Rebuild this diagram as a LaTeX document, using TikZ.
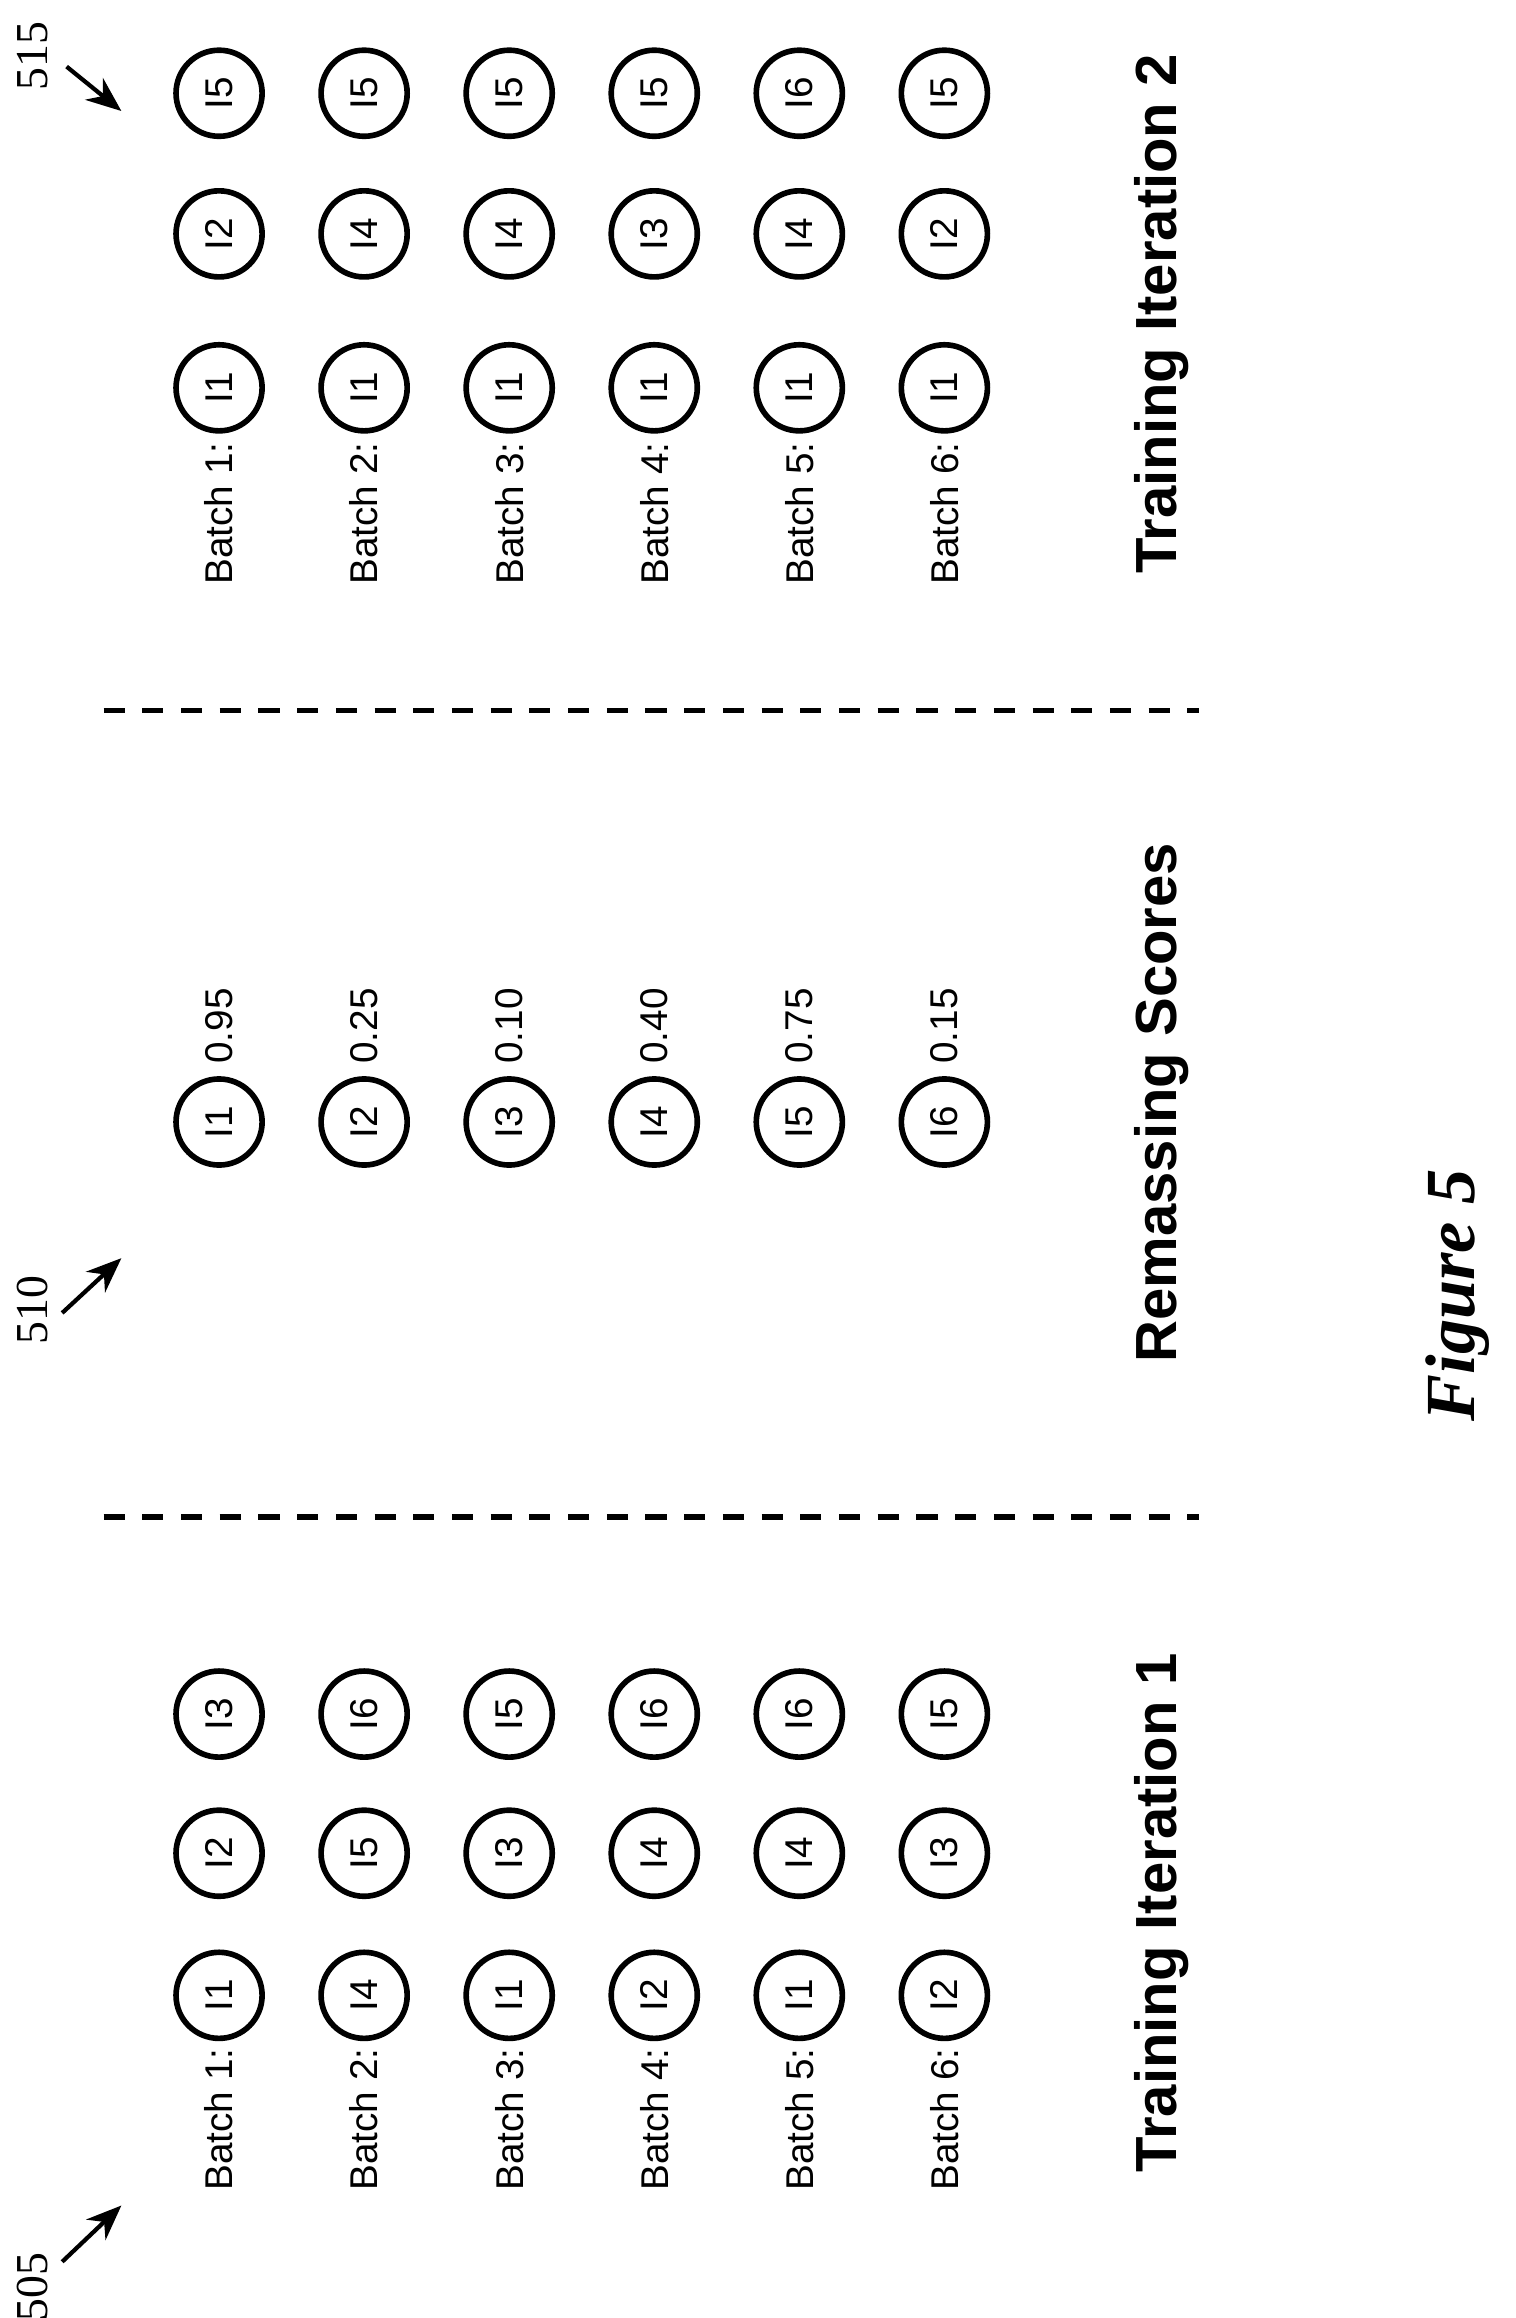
\documentclass[tikz,border=0pt]{standalone}
\usepackage{fontspec}
\setmainfont{Liberation Sans}
\newfontfamily\figfont{Liberation Serif}
\usetikzlibrary{arrows.meta}
\begin{document}
\begin{tikzpicture}[x=0.01478cm,y=-0.01478cm,
    item/.style={draw,circle,line width=1.6pt,minimum size=0.86cm,inner sep=0,rotate=90,font=\fontsize{11}{13}\selectfont},
    lbl/.style={rotate=90,font=\fontsize{11}{13}\selectfont},
    ttl/.style={rotate=90,font=\fontsize{16.5}{19}\selectfont\bfseries},
    refnum/.style={rotate=90,font=\figfont\fontsize{13}{15}\selectfont},
    refarrow/.style={-{Stealth[length=10pt,width=8pt]},line width=1.2pt}]
    % Page frame
    \useasboundingbox (0,0) rectangle (1024,1566);

    % Training iteration 1
    \foreach [count=\i] \a/\b/\c in {I1/I2/I3, I4/I5/I6, I1/I3/I5, I2/I4/I6, I1/I4/I6, I2/I3/I5} {
        \node[lbl] (la\i) at (50+98*\i,1432) {Batch \i:};
        \node[item] (la\i a) at (50+98*\i,1348) {\a};
        \node[item] (la\i b) at (50+98*\i,1252) {\b};
        \node[item] (la\i c) at (50+98*\i,1158) {\c};
    }
    \node[ttl] (lefttitle) at (785,1292) {Training Iteration 1};

    % Remassing scores
    \foreach [count=\i] \s in {0.95,0.25,0.10,0.40,0.75,0.15} {
        \node[item] (sc\i) at (50+98*\i,758) {I\i};
        \node[lbl,anchor=west] (sv\i) at (50+98*\i,727) {\s};
    }
    \node[ttl] (midtitle) at (785,745) {Remassing Scores};

    % Training iteration 2
    \foreach [count=\i] \a/\b/\c in {I1/I2/I5, I1/I4/I5, I1/I4/I5, I1/I3/I5, I1/I4/I6, I1/I2/I5} {
        \node[lbl] (ra\i) at (50+98*\i,347) {Batch \i:};
        \node[item] (ra\i a) at (50+98*\i,262) {\a};
        \node[item] (ra\i b) at (50+98*\i,158) {\b};
        \node[item] (ra\i c) at (50+98*\i,63) {\c};
    }
    \node[ttl] (righttitle) at (785,212) {Training Iteration 2};

    % Separators
    \coordinate (s1a) at (70,1025); \coordinate (s1b) at (810,1025);
    \coordinate (s2a) at (70,480);  \coordinate (s2b) at (810,480);
    \draw[line width=1.6pt,dash pattern=on 6pt off 5pt] (s1a) -- (s1b);
    \draw[line width=1.6pt,dash pattern=on 6pt off 5pt] (s2a) -- (s2b);

    % Reference numerals
    \node[refnum] (r505) at (22,1545) {505};
    \coordinate (r505a) at (42,1528); \coordinate (r505b) at (82,1490);
    \draw[refarrow] (r505a) -- (r505b);
    \node[refnum] (r510) at (22,885) {510};
    \coordinate (r510a) at (42,887); \coordinate (r510b) at (82,850);
    \draw[refarrow] (r510a) -- (r510b);
    \node[refnum] (r515) at (22,38) {515};
    \coordinate (r515a) at (45,45); \coordinate (r515b) at (82,75);
    \draw[refarrow] (r515a) -- (r515b);

    % Caption
    \node[rotate=90,font=\figfont\fontsize{20}{24}\selectfont\bfseries\itshape] (cap) at (985,875) {Figure 5};
\end{tikzpicture}
\end{document}
